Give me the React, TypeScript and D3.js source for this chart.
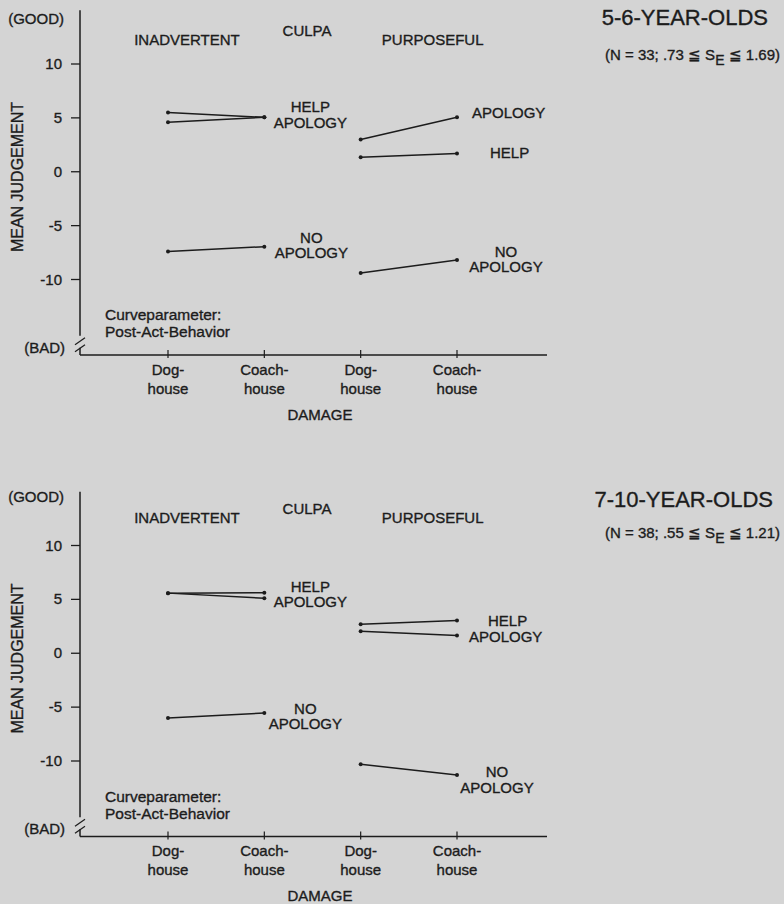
import * as d3 from 'd3';

// damage levels along the x axis, grouped by culpa
const culpaLevels = ['INADVERTENT', 'PURPOSEFUL'];
const damageLevels = ['Dog-house', 'Coach-house', 'Dog-house', 'Coach-house'];
const yTicks = [10, 5, 0, -5, -10];

const ageGroups = ['5-6-YEAR-OLDS', '7-10-YEAR-OLDS'];
const sampleN = [33, 38];
const seMin = ['.73', '.55'];
const seMax = ['1.69', '1.21'];

// mean judgement per damage level (inadvertent dog, coach, purposeful dog, coach)
const help56 = [5.5, 5.05, 1.35, 1.7];
const apology56 = [4.6, 5.05, 3.0, 5.05];
const noApology56 = [-7.4, -6.95, -9.4, -8.2];

const help710 = [5.58, 5.62, 2.7, 3.05];
const apology710 = [5.58, 5.1, 2.05, 1.65];
const noApology710 = [-6.0, -5.55, -10.3, -11.3];

const series = [
  [help56, apology56, noApology56],
  [help710, apology710, noApology710],
];

// label placement: [lines, damage index, value for first baseline, dx, anchor]
const labels56 = [
  [['HELP', 'APOLOGY'], 1, 5.53, 46, 'middle'],
  [['NO', 'APOLOGY'], 1, -6.6, 47, 'middle'],
  [['APOLOGY'], 3, 4.98, 15, 'start'],
  [['HELP'], 3, 1.26, 33, 'start'],
  [['NO', 'APOLOGY'], 3, -7.9, 49, 'middle'],
];
const labels710 = [
  [['HELP', 'APOLOGY'], 1, 5.72, 46, 'middle'],
  [['NO', 'APOLOGY'], 1, -5.6, 41, 'middle'],
  [['HELP'], 3, 2.56, 31, 'start'],
  [['APOLOGY'], 3, 1.07, 12, 'start'],
  [['NO', 'APOLOGY'], 3, -11.5, 40, 'middle'],
];
const panelLabels = [labels56, labels710];

const font = '"Liberation Sans", Arial, Helvetica, sans-serif';
const ink = '#1c1c1c';

function Panel({ idx, top }: { idx: number; top: number }) {
  const y = d3.scaleLinear().domain([-10, 10]).range([279.5 + top, 64 + top]);
  const x = d3.scaleLinear().domain([0, 3]).range([168, 457]);
  const axisX = 80;
  const yAxisTop = y(15);
  const yAxisBottom = y(-17);
  const breakY = y(-15.4);
  const line = d3
    .line<number>()
    .x((_, i) => x(i))
    .y(d => y(d));
  const hs = idx === 0 ? 0 : -4;

  return (
    <g fontFamily={font} fill={ink}>
      {/* y axis with break */}
      <line x1={axisX} x2={axisX} y1={yAxisTop} y2={breakY - 2} stroke={ink} strokeWidth={1.5} />
      <line x1={axisX} x2={axisX} y1={breakY + 10} y2={yAxisBottom} stroke={ink} strokeWidth={1.5} />
      <line x1={75} x2={85} y1={breakY + 7} y2={breakY} stroke={ink} strokeWidth={1.2} />
      <line x1={75} x2={85} y1={breakY + 14} y2={breakY + 7} stroke={ink} strokeWidth={1.2} />
      {yTicks.map(t => (
        <g key={t}>
          <line x1={71} x2={axisX} y1={y(t)} y2={y(t)} stroke={ink} strokeWidth={1.3} />
          <text x={62} y={y(t) + 5} fontSize={15} textAnchor="end">{t}</text>
        </g>
      ))}
      <text x={64} y={yAxisTop + 14 + hs} fontSize={15} textAnchor="end">(GOOD)</text>
      <text x={65} y={yAxisBottom - 2} fontSize={15} textAnchor="end">(BAD)</text>
      <text transform={`translate(23,${top + 177}) rotate(-90)`} fontSize={16} textAnchor="middle">
        MEAN JUDGEMENT
      </text>

      {/* x axis */}
      <line x1={axisX} x2={547} y1={yAxisBottom} y2={yAxisBottom} stroke={ink} strokeWidth={1.5} />
      {damageLevels.map((d, i) => {
        const [a, b] = d.split('-');
        return (
          <g key={i}>
            <line x1={x(i)} x2={x(i)} y1={yAxisBottom - 5} y2={yAxisBottom + 3} stroke={ink} strokeWidth={1.2} />
            <text x={x(i)} y={yAxisBottom + 20} fontSize={15} textAnchor="middle">{a + '-'}</text>
            <text x={x(i)} y={yAxisBottom + 39} fontSize={15} textAnchor="middle">{b}</text>
          </g>
        );
      })}
      <text x={320} y={yAxisBottom + 65} fontSize={15} textAnchor="middle">DAMAGE</text>

      {/* headers */}
      <text x={x(0) + 19} y={top + 45 + hs} fontSize={15} textAnchor="middle">{culpaLevels[0]}</text>
      <text x={307} y={top + 36 + hs} fontSize={15} textAnchor="middle">CULPA</text>
      <text x={x(2) + 72} y={top + 45 + hs} fontSize={15} textAnchor="middle">{culpaLevels[1]}</text>
      <text x={idx === 0 ? 768 : 773} y={top + 25} fontSize={22} textAnchor="end">{ageGroups[idx]}</text>
      <text x={780} y={top + 60 + hs} fontSize={15} textAnchor="end">
        {`(N = ${sampleN[idx]}; ${seMin[idx]} ≦ S`}
        <tspan dy={5} fontSize={14}>E</tspan>
        <tspan dy={-5}>{` ≦ ${seMax[idx]})`}</tspan>
      </text>

      <text x={105} y={top + 320} fontSize={15.5}>Curveparameter:</text>
      <text x={105} y={top + 337} fontSize={15.5}>Post-Act-Behavior</text>

      {/* curves: inadvertent pair and purposeful pair */}
      {series[idx].map((s, k) => (
        <g key={k}>
          {[0, 2].map(start => (
            <path
              key={start}
              d={line(s.slice(start, start + 2)) ?? ''}
              transform={`translate(${x(start) - x(0)},0)`}
              fill="none"
              stroke={ink}
              strokeWidth={1.5}
            />
          ))}
          {s.map((v, i) => (
            <circle key={i} cx={x(i)} cy={y(v)} r={2} fill={ink} />
          ))}
        </g>
      ))}

      {panelLabels[idx].map((l: any, k) => {
        const [lines, i, v, dx, anchor] = l;
        return (
          <text key={k} x={x(i) + dx} y={y(v)} fontSize={15} textAnchor={anchor}>
            {lines.map((t: string, j: number) => (
              <tspan key={j} x={x(i) + dx} dy={j === 0 ? 0 : 15.5}>{t}</tspan>
            ))}
          </text>
        );
      })}
    </g>
  );
}

export default function App() {
  return (
    <svg
      width={784}
      height={904}
      style={{ position: 'absolute', left: 0, top: 0, background: '#d4d4d4' }}
    >
      <style>{`text { stroke: ${ink}; stroke-width: 0.35px; }`}</style>
      <rect width={784} height={904} fill="#d4d4d4" />
      <Panel idx={0} top={0} />
      <Panel idx={1} top={481.5} />
    </svg>
  );
}
